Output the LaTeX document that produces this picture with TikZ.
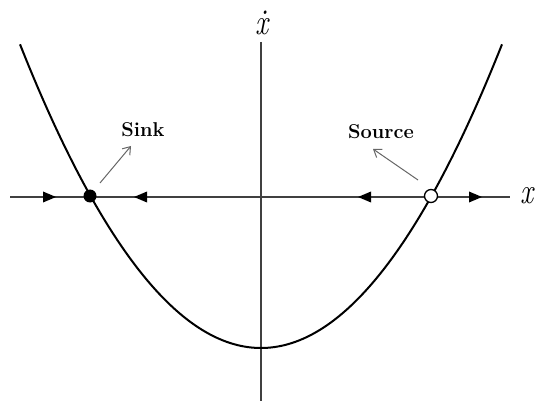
\documentclass[tikz,border=0pt]{standalone}
\usepackage{fontspec}
\usetikzlibrary{arrows.meta}
\begin{document}
\begin{tikzpicture}[x=1pt,y=-1pt,
  axisline/.style={draw=black!75,line width=1.4pt},
  curve/.style={draw=black,line width=2pt},
  ptr/.style={draw=black!60,line width=1pt,-{Straight Barb[length=7pt,width=10pt,line width=1pt]}},
  lbl/.style={font=\fontsize{20}{20}\selectfont\bfseries,inner sep=0pt,text=black},
  axlbl/.style={font=\fontsize{29}{29}\selectfont\itshape,inner sep=0pt,yscale=1.25},
  sinkdot/.style={circle,fill=black,minimum size=13pt,inner sep=0pt},
  srcdot/.style={circle,fill=white,draw=black,line width=1.3pt,minimum size=13pt,inner sep=0pt},
  tri/.pic={\fill[black] (6,0) -- (-7,-5.5) -- (-7,5.5) -- cycle;}]
\useasboundingbox (0,0) rectangle (537,403);
\coordinate (xl) at (10,197);
\coordinate (xr) at (510,197);
\coordinate (yt) at (261,42);
\coordinate (yb) at (261,401);
\draw[axisline] (xl) -- (xr);
\draw[axisline] (yt) -- (yb);
\draw[curve] plot[domain=-241:241,samples=120,smooth] ({261+\x},{348-152*(\x/170.5)^2});
\path (50,197) pic {tri};
\path (140,197) pic[rotate=180] {tri};
\path (364,197) pic[rotate=180] {tri};
\path (476,197) pic {tri};
\node[sinkdot] (sink) at (90,196) {};
\node[srcdot] (src) at (431,196) {};
\node[lbl] (sinkl) at (143,130) {Sink};
\node[lbl] (srcl) at (381,132) {Source};
\coordinate (sa) at (100,183);
\coordinate (sb) at (131,146);
\coordinate (ra) at (418,180);
\coordinate (rb) at (373,149);
\draw[ptr] (sa) -- (sb);
\draw[ptr] (ra) -- (rb);
\node[axlbl] (xdot) at (262,23) {\.{x}};
\node[axlbl] (xlab) at (527,196) {x};
\end{tikzpicture}
\end{document}
